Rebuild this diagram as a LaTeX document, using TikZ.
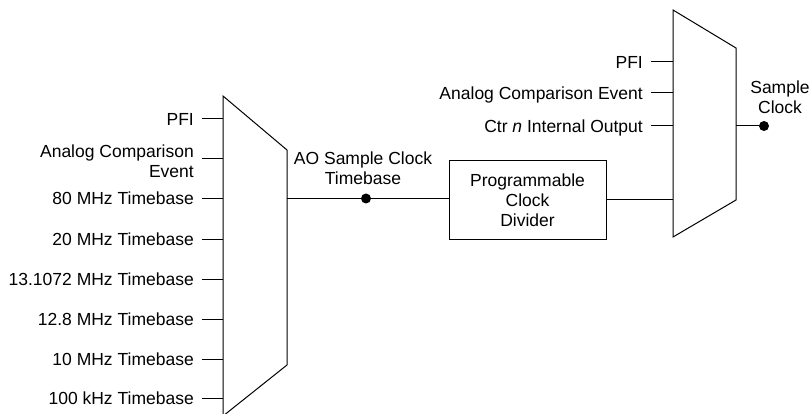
\documentclass[tikz,border=0pt]{standalone}
\usepackage{fontspec}
\setmainfont{Liberation Sans}
\begin{document}
\begin{tikzpicture}[x=1pt,y=-1pt,
  lbl/.style={font=\fontsize{17.5}{20}\selectfont, inner sep=0pt},
  inlbl/.style={lbl, anchor=base east},
  wire/.style={line width=1pt},
  mux/.style={line width=1pt},
  dotnode/.style={circle, fill=black, inner sep=0pt, minimum size=10pt},
  divbox/.style={draw, line width=1pt, minimum width=157pt, minimum height=78pt, align=center, font=\fontsize{17.5}{20}\selectfont, inner sep=0pt}
]
\useasboundingbox (0,0) rectangle (811,414);

% left multiplexer
\draw[mux] (223,96) -- (287,150) -- (287,365) -- (223,416) -- cycle;
% right multiplexer
\draw[mux] (673,10) -- (736,48) -- (736,200) -- (673,237) -- cycle;

% left mux pins
\coordinate (L1) at (223,119);
\coordinate (L2) at (223,159);
\coordinate (L3) at (223,198.5);
\coordinate (L4) at (223,239);
\coordinate (L5) at (223,279);
\coordinate (L6) at (223,319);
\coordinate (L7) at (223,359);
\coordinate (L8) at (223,398);
\coordinate (Lout) at (287,198.5);

\node[inlbl] (t1) at (194,125.5) {PFI};
\node[lbl, anchor=east, align=right] (t2) at (194,161) {Analog Comparison\\Event};
\node[inlbl] (t3) at (194,205) {80 MHz Timebase};
\node[inlbl] (t4) at (194,245.5) {20 MHz Timebase};
\node[inlbl] (t5) at (194,285.5) {13.1072 MHz Timebase};
\node[inlbl] (t6) at (194,325.5) {12.8 MHz Timebase};
\node[inlbl] (t7) at (194,365.5) {10 MHz Timebase};
\node[inlbl] (t8) at (194,404.5) {100 kHz Timebase};

\draw[wire] (L1) -- ++(-21,0);
\draw[wire] (L2) -- ++(-21,0);
\draw[wire] (L3) -- ++(-21,0);
\draw[wire] (L4) -- ++(-21,0);
\draw[wire] (L5) -- ++(-21,0);
\draw[wire] (L6) -- ++(-21,0);
\draw[wire] (L7) -- ++(-21,0);
\draw[wire] (L8) -- ++(-21,0);

% AO sample clock timebase
\node[dotnode] (d1) at (366,198.5) {};
\node[lbl, align=center] (aot) at (363,168) {AO Sample Clock\\Timebase};

% divider
\node[divbox] (div) at (527.5,200) {Programmable\\Clock\\Divider};

% right mux pins
\coordinate (R1) at (673,62);
\coordinate (R2) at (673,93);
\coordinate (R3) at (673,126);
\coordinate (R4) at (673,200);
\coordinate (Rout) at (736,126);

\draw[wire] (Lout) -- (d1) -- (d1 -| div.west);
\draw[wire] (div.east) -- (R4);

\node[inlbl] (r1) at (643,68.5) {PFI};
\node[inlbl] (r2) at (643,99.5) {Analog Comparison Event};
\node[inlbl] (r3) at (643,132.5) {Ctr \textit{n} Internal Output};
\draw[wire] (R1) -- ++(-22,0);
\draw[wire] (R2) -- ++(-22,0);
\draw[wire] (R3) -- ++(-22,0);

\node[dotnode] (d2) at (764,126) {};
\draw[wire] (Rout) -- (d2);
\node[lbl, align=center] (sc) at (780,97) {Sample\\Clock};
\end{tikzpicture}
\end{document}
